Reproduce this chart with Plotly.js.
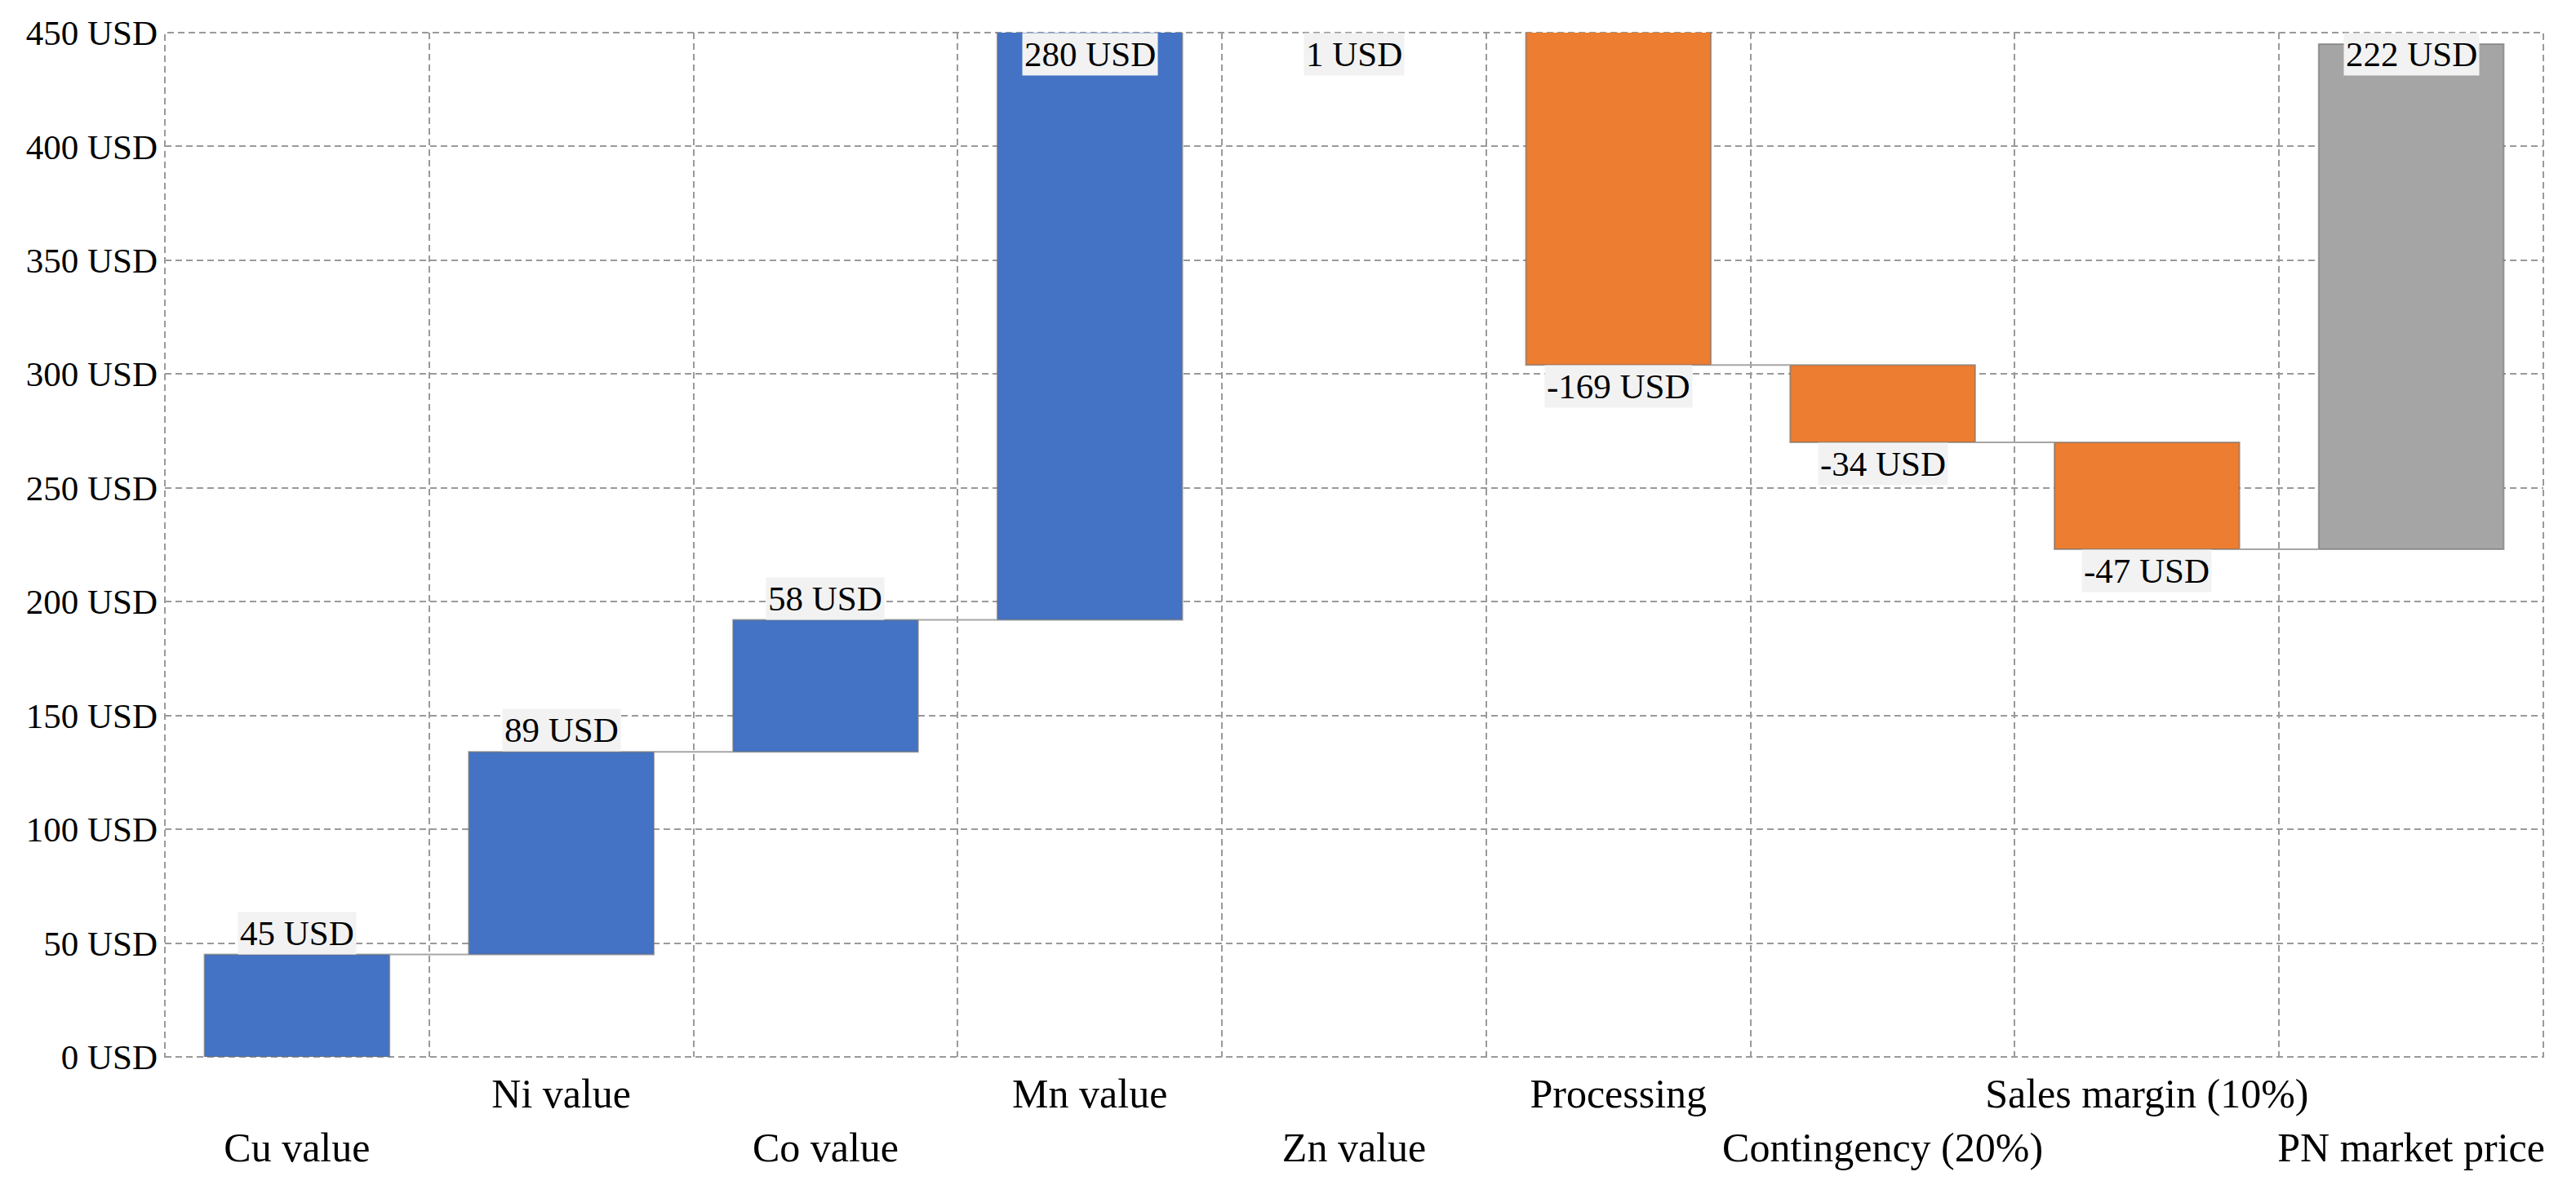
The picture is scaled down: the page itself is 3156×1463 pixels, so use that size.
<!DOCTYPE html>
<html>
<head>
<meta charset="utf-8">
<script src="https://cdn.plot.ly/plotly-3.0.1.min.js"></script>
<style>html,body{margin:0;padding:0;background:#fff;}#chart{width:3156px;height:1463px;}</style>
</head>
<body>
<div id="chart"></div>
<script>
// ---- data ----
const categories = ['Cu value', 'Ni value', 'Co value', 'Mn value', 'Zn value', 'Processing', 'Contingency (20%)', 'Sales margin (10%)', 'PN market price'];
const values = [45, 89, 58, 280, 1, -169, -34, -47, 222];
const measures = ['relative', 'relative', 'relative', 'relative', 'relative', 'relative', 'relative', 'relative', 'total'];
const labelRow = [2, 1, 2, 1, 2, 1, 2, 1, 2];
const yTickStep = 50;
const yMax = 450;

// ---- styles ----
const BLUE = '#4472C4', ORANGE = '#ED7D31', GREY = '#A5A5A5';
const FONT = 'Liberation Serif, Times New Roman, serif';
const GRID = '#9a9a9a';
const barWidth = 0.7;

const bases = [], heights = [], colors = [], cumAfter = [];
let cum = 0;
values.forEach((v, i) => {
  if (measures[i] === 'total') {
    bases.push(cum); heights.push(v); colors.push(GREY);
  } else {
    const start = cum; cum += v;
    bases.push(Math.min(start, cum)); heights.push(Math.abs(v));
    colors.push(v >= 0 ? BLUE : ORANGE);
  }
  cumAfter.push(cum);
});

const bars = {
  type: 'bar', x: categories, y: heights, base: bases,
  marker: {color: colors, line: {color: 'rgba(110,110,110,0.6)', width: 2}},
  width: barWidth, hoverinfo: 'skip', showlegend: false
};

// connectors (on a linear overlay axis that also carries the lower row of labels)
const cx = [], cy = [];
for (let i = 0; i < categories.length - 1; i++) {
  cx.push(i + barWidth / 2, i + 1 - barWidth / 2, null);
  cy.push(cumAfter[i], cumAfter[i], null);
}
const connectors = {
  type: 'scatter', mode: 'lines', x: cx, y: cy, xaxis: 'x2',
  line: {color: '#a6a6a6', width: 2}, hoverinfo: 'skip', showlegend: false
};

// labels
const annotations = values.map((v, i) => {
  const top = bases[i] + heights[i];
  let y, yanchor, yshift = 0;
  if (measures[i] === 'total') { y = Math.min(top, yMax); yanchor = 'top'; yshift = 14; }
  else if (v >= 0) {
    if (top >= yMax) { y = yMax; yanchor = 'top'; }
    else { y = top; yanchor = 'bottom'; }
  } else { y = bases[i]; yanchor = 'top'; }
  return {
    x: categories[i], y: y, xref: 'x', yref: 'y', yanchor: yanchor, xanchor: 'center', yshift: yshift,
    text: v + ' USD', showarrow: false, bgcolor: '#f2f2f2', borderpad: 2,
    font: {family: FONT, size: 43, color: '#000'}
  };
});

const row1Text = categories.map((c, i) => labelRow[i] === 1 ? c : '');
const row2Vals = [], row2Text = [];
categories.forEach((c, i) => { if (labelRow[i] === 2) { row2Vals.push(i); row2Text.push(c); } });

const xTickFont = {family: FONT, size: 50, color: '#000'};
const yTickFont = {family: FONT, size: 43, color: '#000'};

const layout = {
  width: 3156, height: 1463,
  margin: {l: 202, r: 40, t: 40, b: 168, pad: 0},
  paper_bgcolor: '#fff', plot_bgcolor: '#fff',
  font: {family: FONT, size: 42, color: '#000'},
  bargap: 0.3,
  xaxis: {
    type: 'category', categoryorder: 'array', categoryarray: categories,
    tickmode: 'array', tickvals: categories, ticktext: row1Text, tickangle: 0, automargin: false,
    tickson: 'boundaries', ticks: '', showgrid: true, gridcolor: GRID, gridwidth: 2, griddash: '8px,5px',
    showline: false, zeroline: false, range: [-0.5, categories.length - 0.5], fixedrange: true,
    tickfont: xTickFont, ticklabelstandoff: 11
  },
  xaxis2: {
    overlaying: 'x', anchor: 'y', side: 'bottom', type: 'linear', range: [-0.5, categories.length - 0.5],
    tickmode: 'array', tickvals: row2Vals, ticktext: row2Text, tickangle: 0, automargin: false,
    showgrid: false, zeroline: false, showline: false, ticks: '', fixedrange: true,
    tickfont: xTickFont, ticklabelstandoff: 77
  },
  yaxis: {
    range: [0, yMax], dtick: yTickStep, tick0: 0, ticksuffix: ' USD', ticks: '',
    showgrid: true, gridcolor: GRID, gridwidth: 2, griddash: '8px,5px',
    zeroline: false, showline: false, fixedrange: true, automargin: false,
    tickfont: yTickFont, ticklabelstandoff: 8
  },
  shapes: [{
    type: 'rect', xref: 'paper', yref: 'paper', x0: 0, x1: 1, y0: 0, y1: 1, layer: 'below',
    line: {color: GRID, width: 2, dash: '8px,5px'}, fillcolor: 'rgba(0,0,0,0)'
  }],
  annotations: annotations
};

Plotly.newPlot('chart', [bars, connectors], layout, {staticPlot: true, displayModeBar: false});
</script>
</body>
</html>
